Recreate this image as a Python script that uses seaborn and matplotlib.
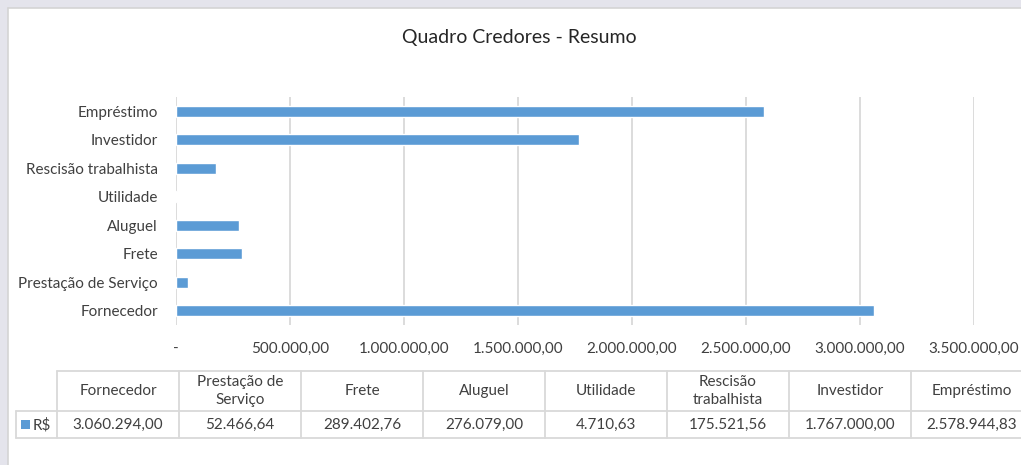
import matplotlib
matplotlib.use("Agg")
import matplotlib.pyplot as plt
import seaborn as sns
import pandas as pd
from matplotlib.ticker import FuncFormatter, MultipleLocator
from matplotlib.patches import Rectangle

# data (order as in the data table)
categorias = ['Fornecedor', 'Prestação de Serviço', 'Frete', 'Aluguel', 'Utilidade',
              'Rescisão trabalhista', 'Investidor', 'Empréstimo']
cabecalho = ['Fornecedor', 'Prestação de\nServiço', 'Frete', 'Aluguel', 'Utilidade',
             'Rescisão\ntrabalhista', 'Investidor', 'Empréstimo']
valores = [3060294.00, 52466.64, 289402.76, 276079.00, 4710.63, 175521.56, 1767000.00, 2578944.83]
serie = 'R$'

df = pd.DataFrame({'Credor': categorias, 'Valor': valores})


def brl(v):
    if v == 0:
        return '-'
    s = f"{v:,.2f}"
    return s.replace(',', 'X').replace('.', ',').replace('X', '.')


sns.set_theme(style='white')
plt.rcParams['font.family'] = ['Lato', 'DejaVu Sans']

W, H = 1021, 465
fig = plt.figure(figsize=(W / 100, H / 100), dpi=100)
fig.patch.set_facecolor('white')

# background / table layer in pixel coordinates
bg = fig.add_axes([0, 0, 1, 1])
bg.set_xlim(0, W)
bg.set_ylim(H, 0)
bg.axis('off')
lavanda = '#e4e4ec'
bg.add_patch(Rectangle((0, 0), W, 8, facecolor=lavanda, edgecolor='none'))
bg.add_patch(Rectangle((0, 0), 8, H, facecolor=lavanda, edgecolor='none'))
bg.plot([8, W], [8, 8], color='#d4d4d4', lw=1.2)
bg.plot([8, 8], [8, H], color='#d4d4d4', lw=1.2)

azul = '#5b9bd5'
texto = '#404040'
linha = '#d9d9d9'

# bar chart
ax = fig.add_axes([176 / W, 1 - 325 / H, (974 - 176) / W, (325 - 97) / H])
ax.patch.set_alpha(0)
ordem = categorias[::-1]
sns.barplot(data=df, x='Valor', y='Credor', order=ordem, orient='h', color=azul,
            saturation=1, width=0.37, ax=ax, zorder=3)
ax.set_xlim(0, 3500000)
ax.set_ylim(len(ordem) - 0.5, -0.5)
ax.xaxis.set_major_locator(MultipleLocator(500000))
ax.xaxis.set_major_formatter(FuncFormatter(lambda v, p: brl(v)))
ax.grid(axis='x', color=linha, lw=1.3, zorder=0)
for s in ax.spines.values():
    s.set_visible(False)
ax.set_xlabel('')
ax.set_ylabel('')
ax.tick_params(axis='y', length=0, pad=13, labelsize=11, labelcolor=texto)
ax.tick_params(axis='x', length=0, pad=12, labelsize=11, labelcolor=texto)

fig.text(519 / W, 1 - 37 / H, 'Quadro Credores - Resumo', ha='center', va='center',
         fontsize=14, color='#262626')

# data table
x0, cw = 57, 122
y_top, y_mid, y_bot = 371, 411, 438
n = len(categorias)
x_end = x0 + n * cw
kw = dict(color=linha, lw=1.3)
bg.plot([x0, x_end], [y_top, y_top], **kw)
bg.plot([16, x_end], [y_mid, y_mid], **kw)
bg.plot([16, x_end], [y_bot, y_bot], **kw)
bg.plot([16, 16], [y_mid, y_bot], **kw)
for i in range(n + 1):
    bg.plot([x0 + i * cw, x0 + i * cw], [y_top, y_bot], **kw)
for i, (h, v) in enumerate(zip(cabecalho, valores)):
    cx = x0 + i * cw + cw / 2
    bg.text(cx, (y_top + y_mid) / 2, h, ha='center', va='center', fontsize=11,
            color=texto, linespacing=1.3)
    bg.text(cx, (y_mid + y_bot) / 2 + 0.5, brl(v), ha='center', va='center', fontsize=11,
            color=texto)
bg.add_patch(Rectangle((21, 420), 9, 9, facecolor=azul, edgecolor='none'))
bg.text(33, (y_mid + y_bot) / 2 + 0.5, serie, ha='left', va='center', fontsize=11, color=texto)

fig.savefig('out.png', dpi=100, facecolor=fig.get_facecolor())
